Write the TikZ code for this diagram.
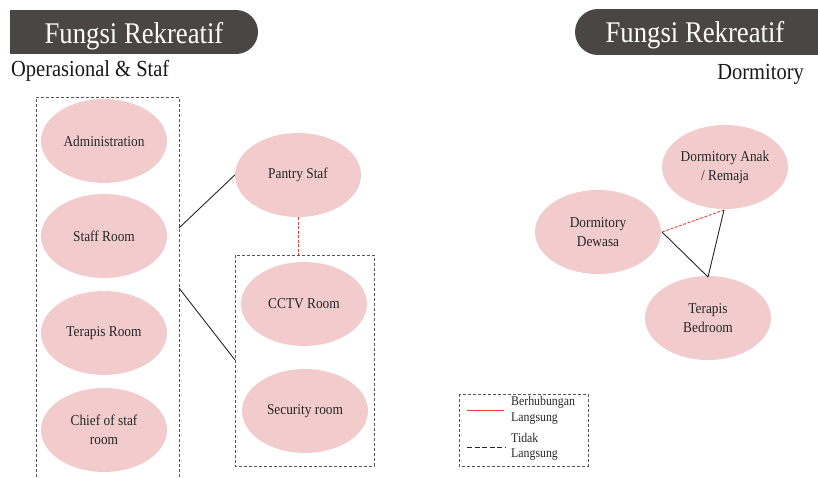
\documentclass[tikz,border=0pt]{standalone}
\usepackage{fontspec}
\setmainfont{Liberation Serif}[FakeStretch=0.89]
\usetikzlibrary{shapes.geometric}
\definecolor{pinkfill}{RGB}{242,204,204}
\definecolor{hdrfill}{RGB}{74,70,70}
\definecolor{boxgray}{RGB}{85,85,85}
\definecolor{linkred}{RGB}{240,60,60}
\tikzset{
  room/.style={ellipse, fill=pinkfill, draw=none, minimum width=126pt, minimum height=84pt, inner sep=0pt, font=\fontsize{15}{19}\selectfont, align=center, text=black!85},
  groupbox/.style={draw=boxgray, dashed, dash pattern=on 3pt off 2pt, line width=0.9pt},
  directlink/.style={draw=linkred, dash pattern=on 3pt off 1.5pt, line width=0.9pt},
  indirectlink/.style={draw=black!85, line width=0.9pt},
  hdrtext/.style={text=white, font=\fontsize{30}{33}\selectfont, anchor=base, inner sep=0pt},
  subtitle/.style={font=\fontsize{23}{26}\selectfont, text=black!90, inner sep=0pt},
  legendtext/.style={font=\fontsize{13.3}{15}\selectfont, text=black!85, anchor=west, inner sep=0pt}
}
\begin{document}
\begin{tikzpicture}[x=1pt,y=-1pt]
\useasboundingbox (0,0) rectangle (818,477);
% headers
\fill[hdrfill] (10,10) rectangle (236,54);
\fill[hdrfill] (236,32) circle[radius=22pt];
\node[hdrtext] (h1) at (134,43) {Fungsi Rekreatif};
\fill[hdrfill] (598,9) rectangle (818,55);
\fill[hdrfill] (598,32) circle[radius=23pt];
\node[hdrtext] (h2) at (695,42) {Fungsi Rekreatif};
\node[subtitle, anchor=base west] (s1) at (11,76) {Operasional \& Staf};
\node[subtitle, anchor=base east] (s2) at (804,79) {Dormitory};
% left group
\draw[groupbox] (36,477) -- (36,97) -- (179,97) -- (179,477);
\node[room] (adm) at (104,141) {Administration};
\node[room] (staff) at (104,236) {Staff Room};
\node[room] (terapis) at (104,333) {Terapis Room};
\node[room] (chief) at (104,430) {Chief of staf\\room};
% pantry
\node[room] (pantry) at (298,175) {Pantry Staf};
% right group
\draw[groupbox] (235,255) rectangle (374,466);
\node[room] (cctv) at (304,304) {CCTV Room};
\node[room] (secur) at (305,411) {Security room};
\coordinate (lbA) at (179,228);
\coordinate (lbB) at (179,288);
\coordinate (rbA) at (235,360);
\coordinate (rbTop) at (298,255);
\draw[indirectlink] (lbA) -- (pantry.west);
\draw[indirectlink] (lbB) -- (rbA);
\draw[directlink] (pantry.south) -- (rbTop);
% dormitory
\node[room] (anak) at (725,167) {Dormitory Anak\\/ Remaja};
\node[room] (dewasa) at (598,232) {Dormitory\\Dewasa};
\node[room] (bed) at (708,318) {Terapis\\Bedroom};
\coordinate (dwE) at (662,232);
\coordinate (anS) at (724,210);
\coordinate (bdN) at (708,277);
\draw[directlink] (dwE) -- (anS);
\draw[indirectlink] (dwE) -- (bdN);
\draw[indirectlink] (anS) -- (bdN);
% legend
\draw[groupbox] (459,394) rectangle (588,466);
\coordinate (l1a) at (467,410);
\coordinate (l1b) at (504,410);
\coordinate (l2a) at (467,447);
\coordinate (l2b) at (505,447);
\draw[draw=linkred, line width=0.9pt] (l1a) -- (l1b);
\draw[draw=black!85, line width=0.9pt, dash pattern=on 5pt off 2.5pt] (l2a) -- (l2b);
\node[legendtext] (t1) at (511,402) {Berhubungan};
\node[legendtext] (t2) at (511,419) {Langsung};
\node[legendtext] (t3) at (511,438) {Tidak};
\node[legendtext] (t4) at (511,455) {Langsung};
\end{tikzpicture}
\end{document}
